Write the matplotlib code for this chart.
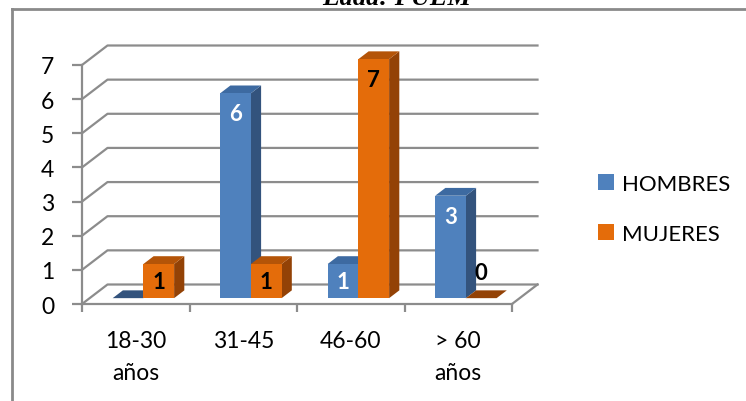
import numpy as np
import matplotlib
matplotlib.use("Agg")
import matplotlib.pyplot as plt
from matplotlib.patches import Polygon, Rectangle, Patch

# ── data ──
categories = ["18-30\naños", "31-45", "46-60", "> 60\naños"]
hombres = [0, 6, 1, 3]
mujeres = [1, 1, 7, 0]
hombres_labels = ["", "6", "1", "3"]     # Excel left the empty bar unlabelled
mujeres_labels = ["1", "1", "7", "0"]
series_names = ["HOMBRES", "MUJERES"]
title = "Edad: PUEM"

# ── styles ──
W, H, DPI = 746, 402, 100
FONT = "Lato"
GRID = "#8c8c8c"
colors = {
    "HOMBRES": ("#4F81BD", "#3D6AA1", "#33537D"),   # front, top, side
    "MUJERES": ("#E46C0A", "#B45408", "#934206"),
}
label_colors = {"HOMBRES": "white", "MUJERES": "black"}

fig = plt.figure(figsize=(W / DPI, H / DPI), dpi=DPI)

# front plane of the 3D box in pixels
left_px, right_px, top_px, bottom_px = 82, 512, 66, 305
ax = fig.add_axes([left_px / W, 1 - bottom_px / H,
                   (right_px - left_px) / W, (bottom_px - top_px) / H])
n = len(categories)
ymax = 7
ax.set_xlim(0, n)
ax.set_ylim(0, ymax)

# depth offset (pixels) converted to data units
depth_px = (25.5, 19.5)
ux = (right_px - left_px) / n
uy = (bottom_px - top_px) / ymax
D = np.array([depth_px[0] / ux, depth_px[1] / uy])
front, back = 0.3 * D, 0.7 * D

# back wall + left wall gridlines
for v in range(ymax + 1):
    ax.plot([0, D[0], n + D[0]], [v, v + D[1], v + D[1]],
            color=GRID, lw=1.6, zorder=1, clip_on=False)
# floor right edge
ax.plot([n, n + D[0]], [0, D[1]], color=GRID, lw=1.6, zorder=1, clip_on=False)

gap = 1.5
w = 1 / (2 + gap)


def draw_bar(x0, v, cfront, ctop, cside, z):
    x1 = x0 + w
    pts = lambda p, off: (p[0] + off[0], p[1] + off[1])
    if v > 0:
        side = [pts((x1, 0), front), pts((x1, v), front), pts((x1, v), back), pts((x1, 0), back)]
        ax.add_patch(Polygon(side, closed=True, fc=cside, ec="none", zorder=z, clip_on=False))
        ax.add_patch(Rectangle(pts((x0, 0), front), w, v, fc=cfront, ec="none",
                               zorder=z + 0.1, clip_on=False))
    top = [pts((x0, v), front), pts((x1, v), front), pts((x1, v), back), pts((x0, v), back)]
    ax.add_patch(Polygon(top, closed=True, fc=ctop if v > 0 else cside, ec="none",
                         zorder=z, clip_on=False))


all_vals = [hombres, mujeres]
all_labels = [hombres_labels, mujeres_labels]
for i in range(n):
    for k, name in enumerate(series_names):
        v = all_vals[k][i]
        x0 = i + gap / 2 * w + k * w
        cf, ct, cs = colors[name]
        draw_bar(x0, v, cf, ct, cs, z=3 + 2 * i + k)
        # data label
        cx = x0 + w / 2 + front[0]
        if v == 0:
            ly, col = front[1] + 0.75, "black"
        elif v == 1:
            ly, col = v / 2 + front[1], label_colors[name]
        else:
            ly, col = v + front[1] - 0.6, label_colors[name]
        ax.text(cx, ly, all_labels[k][i], ha="center", va="center", fontsize=16,
                fontweight="bold", color=col, family=FONT, zorder=20)

# axes styling
for s in ["top", "right"]:
    ax.spines[s].set_visible(False)
for s in ["left", "bottom"]:
    ax.spines[s].set_color(GRID)
    ax.spines[s].set_linewidth(1.6)
    ax.spines[s].set_zorder(2)
ax.set_facecolor("none")
ax.set_yticks(range(ymax + 1))
ax.set_yticklabels([str(v) for v in range(ymax + 1)], family=FONT, fontsize=16.5)
ax.tick_params(axis="y", length=7, width=1.6, color=GRID, pad=13)
ax.set_xticks(range(n + 1))
ax.set_xticklabels([])
ax.tick_params(axis="x", which="major", length=6, width=1.6, color=GRID)
ax.set_xticks(np.arange(n) + 0.5, minor=True)
ax.set_xticklabels(categories, minor=True, family=FONT, fontsize=16.5, linespacing=1.6)
ax.tick_params(axis="x", which="minor", length=0, pad=19)

# legend
handles = [Patch(fc=colors[s][0], ec="none") for s in series_names]
fig.legend(handles, series_names, loc="center left",
           bbox_to_anchor=(598 / W, 1 - 210 / H), frameon=False, borderpad=0,
           borderaxespad=0, prop={"family": FONT, "size": 16},
           handlelength=0.7, handleheight=0.7, handletextpad=0.4, labelspacing=1.35)

# chart border (right and bottom edges run off the image)
fig.add_artist(plt.Line2D([12 / W, 12 / W], [0, 1 - 10 / H], color="#8a8a8a", lw=2,
                          transform=fig.transFigure))
fig.add_artist(plt.Line2D([12 / W, 1], [1 - 10 / H, 1 - 10 / H], color="#8a8a8a", lw=2,
                          transform=fig.transFigure))

# title, cut off at the top as in the source
fig.text(397 / W, 1 - 5 / H, title, ha="center", va="baseline", fontsize=19,
         fontweight="bold", style="italic", family="Liberation Serif")

fig.savefig("out.png", dpi=DPI)
